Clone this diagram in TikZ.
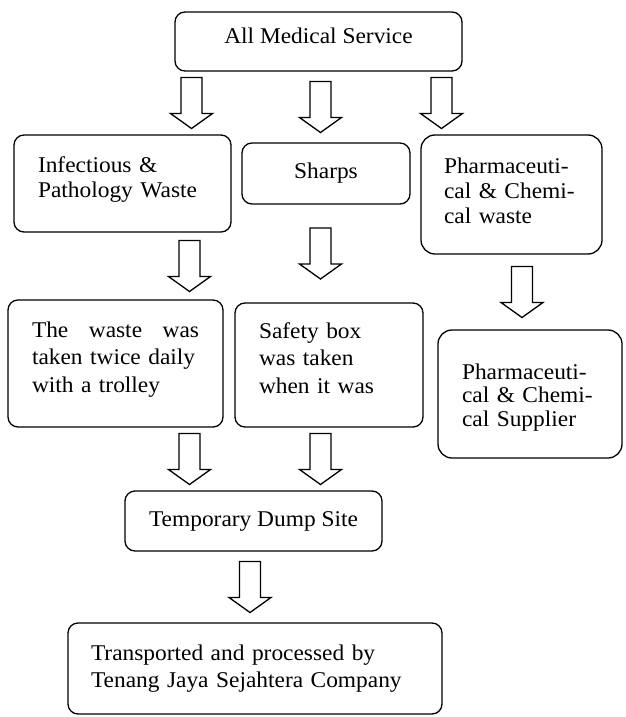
\documentclass[tikz,border=0pt]{standalone}
\usepackage{fontspec}
\setmainfont[FakeStretch=1.04]{Liberation Serif}
\usetikzlibrary{calc}
\tikzset{
  box/.style={draw, line width=1.3pt, rounded corners=10pt, inner sep=0pt, font=\fontsize{22.5}{25}\selectfont},
  barrow/.style={draw, line width=1.3pt, line join=miter}
}
\newcommand{\blockarrow}[3]{%
  \draw[barrow] let \p1=($(#2.south)!.5!(#3.north)$) in
    (#1pt-10.5pt,\y1+25.5pt) -- (#1pt+10.5pt,\y1+25.5pt) -- (#1pt+10.5pt,\y1-10.5pt)
    -- (#1pt+21pt,\y1-10.5pt) -- (#1pt,\y1-25.5pt) -- (#1pt-21pt,\y1-10.5pt)
    -- (#1pt-10.5pt,\y1-10.5pt) -- cycle;}
\begin{document}
\begin{tikzpicture}[x=1pt,y=-1pt]
\useasboundingbox (0,0) rectangle (626,717);
\node[box, minimum width=287pt, minimum height=59pt, text depth=12pt] (all) at (318.5,41.5) {All Medical Service};
\node[box, minimum width=217pt, minimum height=97pt, text width=169pt, align=left, text depth=38pt] (infect) at (122.5,183.5) {Infectious \&\\Pathology Waste};
\node[box, minimum width=168pt, minimum height=61pt] (sharps) at (326,173.5) {Sharps};
\node[box, minimum width=181pt, minimum height=119pt, text width=135pt, align=left, rounded corners=14pt, text depth=58pt] (pharma) at (511.5,194.5) {Pharmaceuti-\\cal \& Chemi-\\cal waste};
\node[box, minimum width=215pt, minimum height=127pt, text width=167pt, align=left, font=\fontsize{22.5}{27.5}\selectfont, text depth=68pt] (waste) at (115.5,363.5) {The\hfill waste\hfill was\\taken twice daily\\with a trolley};
\node[box, minimum width=188pt, minimum height=124pt, text width=140pt, align=left, font=\fontsize{22.5}{27.5}\selectfont, text depth=69pt] (safety) at (329,365) {Safety box\\was taken\\when it was};
\node[box, minimum width=184pt, minimum height=128pt, text width=136pt, align=left, rounded corners=14pt, font=\fontsize{22.5}{23.5}\selectfont, text depth=45pt] (supplier) at (530,394) {Pharmaceuti-\\cal \& Chemi-\\cal Supplier};
\node[box, minimum width=257pt, minimum height=60pt] (temp) at (253.5,521) {Temporary Dump Site};
\node[box, minimum width=374pt, minimum height=91pt, text width=328pt, align=left, font=\fontsize{22.5}{27}\selectfont] (transport) at (255,668.5) {Transported and processed by\\Tenang Jaya Sejahtera Company};
\blockarrow{191.5}{all}{infect}
\blockarrow{320.5}{all}{sharps}
\blockarrow{441.5}{all}{pharma}
\blockarrow{189.5}{infect}{waste}
\blockarrow{320.5}{sharps}{safety}
\blockarrow{522}{pharma}{supplier}
\blockarrow{189.5}{waste}{temp}
\blockarrow{320.5}{safety}{temp}
\blockarrow{250}{temp}{transport}
\end{tikzpicture}
\end{document}
